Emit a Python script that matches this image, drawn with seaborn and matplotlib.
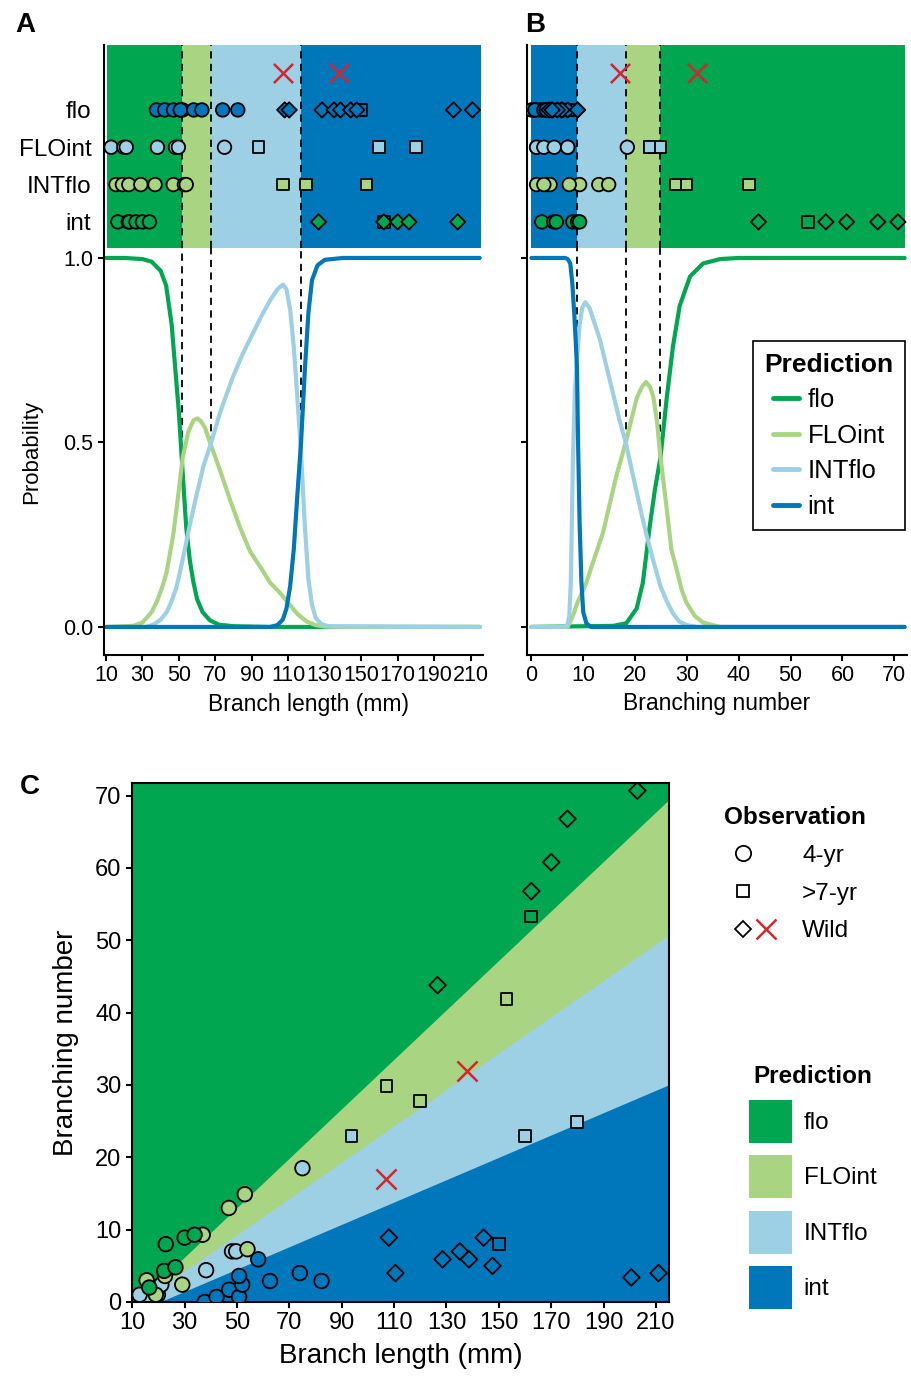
import numpy as np
import pandas as pd
import matplotlib
matplotlib.use('Agg')
import matplotlib.pyplot as plt
import seaborn as sns
from matplotlib.lines import Line2D
from matplotlib.patches import Patch
from matplotlib.legend_handler import HandlerTuple

# prediction classes and their colours
classes = ['flo', 'FLOint', 'INTflo', 'int']
palette = {'flo': '#00A650', 'FLOint': '#A9D582', 'INTflo': '#9DCFE5', 'int': '#0077BB'}
wild_red = '#D4262C'

# observed plants: branch length (mm), branching number, age group, observed class
int_len = [37.7, 42.2, 47.0, 50.8, 52.0, 50.8, 58.1, 62.6, 74.0, 82.3,
           150.0,
           108.0, 110.5, 128.5, 135.1, 138.6, 144.2, 147.6, 200.6, 211.0]
int_num = [0.0, 0.7, 1.7, 0.7, 2.4, 3.6, 5.9, 2.9, 4.0, 2.9,
           8.0,
           8.9, 4.0, 5.9, 7.0, 5.9, 8.9, 5.0, 3.4, 4.0]
int_type = ['4-yr'] * 10 + ['>7-yr'] + ['Wild'] * 9

intflo_len = [12.8, 19.8, 21.1, 38.2, 48.1, 49.7, 75.0, 93.7, 159.9, 180.0]
intflo_num = [1.0, 1.0, 2.4, 4.4, 7.0, 7.0, 18.5, 22.9, 22.9, 24.9]
intflo_type = ['4-yr'] * 7 + ['>7-yr'] * 3

floint_len = [15.5, 19.0, 22.5, 29.1, 36.9, 46.9, 53.0, 54.0, 107.1, 119.8, 152.9]
floint_num = [3.0, 1.0, 3.6, 2.4, 9.3, 13.0, 14.9, 7.3, 29.9, 27.8, 41.9]
floint_type = ['4-yr'] * 8 + ['>7-yr'] * 3

flo_len = [16.5, 22.2, 22.8, 26.5, 30.0, 33.8, 162.4, 126.6, 162.4, 170.0, 176.2, 202.9]
flo_num = [2.0, 4.3, 8.0, 4.8, 8.9, 9.3, 53.3, 43.8, 56.8, 60.8, 66.8, 70.7]
flo_type = ['4-yr'] * 6 + ['>7-yr'] + ['Wild'] * 5

# wild plants without observed class
unk_len = [107.0, 138.0]
unk_num = [17.0, 32.0]

# predicted probability curves, panel A (branch length)
a_x = {
    'flo': [10, 20, 30, 35, 40, 43, 46, 48, 50, 51.7, 54, 56, 58, 60, 63, 67, 72, 80, 100, 215],
    'FLOint': [10, 25, 30, 35, 38, 41, 43.3, 46.9, 49.7, 52.1, 55.2, 58, 60.1, 62, 64.3, 67.4, 72.5,
               78, 83.5, 89, 95, 100, 105, 110, 115, 120, 125, 130, 140, 215],
    'INTflo': [10, 32, 36, 40, 43.3, 46, 48.8, 52.4, 56.1, 59.8, 63.4, 67.4, 72.5, 79, 85, 90, 95, 100,
               104, 107, 109, 111, 113, 115, 117, 119, 121, 123, 125, 128, 132, 215],
    'int': [10, 100, 104, 107, 109, 111, 113, 115, 117, 119, 121, 123, 126, 130, 140, 215],
}
a_p = {
    'flo': [1.0, 1.0, 0.997, 0.99, 0.965, 0.925, 0.82, 0.70, 0.58, 0.445, 0.27, 0.18, 0.12, 0.075,
            0.04, 0.018, 0.006, 0.002, 0.0, 0.0],
    'FLOint': [0.0, 0.003, 0.012, 0.04, 0.07, 0.11, 0.15, 0.25, 0.36, 0.46, 0.53, 0.56, 0.565, 0.558,
               0.54, 0.495, 0.425, 0.345, 0.27, 0.205, 0.16, 0.12, 0.095, 0.065, 0.035, 0.015, 0.005,
               0.001, 0.0, 0.0],
    'INTflo': [0.0, 0.0, 0.006, 0.02, 0.04, 0.07, 0.11, 0.19, 0.28, 0.36, 0.435, 0.495, 0.58, 0.67,
               0.74, 0.79, 0.84, 0.885, 0.915, 0.928, 0.915, 0.86, 0.76, 0.62, 0.47, 0.28, 0.13, 0.06,
               0.025, 0.008, 0.002, 0.0],
    'int': [0.0, 0.0, 0.005, 0.02, 0.05, 0.11, 0.21, 0.36, 0.5, 0.69, 0.85, 0.94, 0.98, 0.995, 1.0, 1.0],
}

# predicted probability curves, panel B (branching number)
b_x = {
    'flo': [0, 15.8, 18.3, 20.3, 21.5, 22.8, 23.8, 24.9, 26.1, 27.3, 28.6, 30.6, 33.1, 36.4, 40, 72],
    'FLOint': [0, 7.0, 8.0, 9.0, 10.0, 10.6, 12.0, 13.8, 16.4, 18.2, 20.3, 21.3, 22.1, 22.9, 23.5, 24.2,
               24.9, 26.1, 27.0, 28.0, 29.0, 29.9, 31.5, 33.1, 36.4, 72],
    'INTflo': [0, 6.5, 7.0, 7.3, 7.6, 8.0, 8.4, 8.8, 9.3, 9.8, 10.4, 11.2, 13.2, 15.1, 17.0, 18.2, 19.6,
               21.5, 22.2, 23.5, 24.9, 26.1, 27.3, 28.5, 30.0, 32, 72],
    'int': [0, 6.5, 7.0, 7.5, 7.9, 8.3, 8.6, 8.8, 9.0, 9.3, 9.65, 10.0, 10.6, 11.5, 72],
}
b_p = {
    'flo': [0.0, 0.003, 0.01, 0.05, 0.12, 0.27, 0.37, 0.46, 0.62, 0.76, 0.87, 0.95, 0.985, 0.997, 1.0, 1.0],
    'FLOint': [0.0, 0.0, 0.03, 0.07, 0.1, 0.12, 0.18, 0.255, 0.41, 0.5, 0.62, 0.65, 0.664, 0.65, 0.625,
               0.56, 0.46, 0.32, 0.21, 0.157, 0.1, 0.066, 0.03, 0.012, 0.0, 0.0],
    'INTflo': [0.0, 0.0, 0.008, 0.03, 0.12, 0.45, 0.64, 0.73, 0.82, 0.865, 0.88, 0.865, 0.78, 0.67, 0.56,
               0.5, 0.41, 0.29, 0.25, 0.18, 0.11, 0.07, 0.037, 0.015, 0.005, 0.0, 0.0],
    'int': [1.0, 1.0, 0.997, 0.985, 0.93, 0.84, 0.76, 0.70, 0.50, 0.28, 0.12, 0.04, 0.01, 0.0, 0.0],
}

# class thresholds and where the dashed lines stop
a_cuts = [51.7, 67.4, 117.0]
a_cut_end = [0.445, 0.495, 0.485]
a_range = [10.3, 215.5]
a_order = ['flo', 'FLOint', 'INTflo', 'int']
b_cuts = [8.8, 18.2, 24.9]
b_cut_end = [0.71, 0.5, 0.46]
b_range = [0.0, 72.0]
b_order = ['int', 'INTflo', 'FLOint', 'flo']

# decision boundaries in panel C (branch length, branching number)
bnd_floint_x = [11.8, 216]
bnd_floint_y = [0, 69.8]
bnd_intflo_x = [13, 216]
bnd_intflo_y = [0, 51.0]
bnd_int_x = [20.5, 216]
bnd_int_y = [0, 30.2]

obs = pd.DataFrame({
    'length': int_len + intflo_len + floint_len + flo_len,
    'number': int_num + intflo_num + floint_num + flo_num,
    'type': int_type + intflo_type + floint_type + flo_type,
    'cls': ['int'] * len(int_len) + ['INTflo'] * len(intflo_len)
           + ['FLOint'] * len(floint_len) + ['flo'] * len(flo_len),
})
obs['row'] = obs['cls'].map({c: i + 1 for i, c in enumerate(classes)})


def curves(xs, ps):
    return pd.concat([pd.DataFrame({'x': xs[c], 'p': ps[c], 'cls': c}) for c in classes])


sns.set_theme(style='ticks', rc={'axes.edgecolor': 'black', 'xtick.color': 'black',
                                 'ytick.color': 'black', 'text.color': 'black',
                                 'axes.labelcolor': 'black', 'axes.linewidth': 1.5,
                                 'xtick.major.width': 1.5, 'ytick.major.width': 1.5,
                                 'xtick.major.size': 4, 'ytick.major.size': 4})
plt.rcParams['font.family'] = ['Liberation Sans', 'DejaVu Sans']

W, H = 912, 1376
fig = plt.figure(figsize=(W / 100, H / 100), dpi=100)


def box(l, t, r, b):
    return [l / W, 1 - b / H, (r - l) / W, (b - t) / H]


ax_sa = fig.add_axes(box(104, 45, 483, 248))
ax_pa = fig.add_axes(box(104, 248, 483, 655))
ax_sb = fig.add_axes(box(527, 45, 907, 248))
ax_pb = fig.add_axes(box(527, 248, 907, 655))
ax_c = fig.add_axes(box(132, 783, 669, 1302))

marker_a = [('4-yr', 'o', 95), ('>7-yr', 's', 72), ('Wild', 'D', 60)]
marker_c = [('4-yr', 'o', 110), ('>7-yr', 's', 72), ('Wild', 'D', 72)]
dash = (0, (4, 3))

# strips with observations along one variable
for ax, col, cuts, rng, order, xlim in [
        (ax_sa, 'length', a_cuts, a_range, a_order, (8.9, 216.8)),
        (ax_sb, 'number', b_cuts, b_range, b_order, (-0.85, 72.45))]:
    edges = [rng[0]] + cuts + [rng[1]]
    for i, c in enumerate(order):
        ax.axvspan(edges[i], edges[i + 1], color=palette[c], lw=0, zorder=0)
    for c in cuts:
        ax.axvline(c, color='black', ls=dash, lw=1.3, zorder=1)
    for t, m, s in marker_a:
        sns.scatterplot(data=obs[obs['type'] == t], x=col, y='row', hue='cls', palette=palette,
                        marker=m, s=s, edgecolor='black', linewidth=1.3, legend=False,
                        ax=ax, zorder=3)
    unk = unk_len if col == 'length' else unk_num
    sns.scatterplot(x=unk, y=[5] * len(unk), marker='x', color=wild_red, s=190,
                    linewidth=1.8, ax=ax, zorder=4)
    ax.set_xlim(*xlim)
    ax.set_ylim(0.3, 5.74)
    ax.set_xticks([])
    ax.set_xlabel('')
    ax.set_ylabel('')
    for sp in ['top', 'right', 'bottom']:
        ax.spines[sp].set_visible(False)

ax_sa.set_yticks([1, 2, 3, 4])
ax_sa.set_yticklabels(['int', 'INTflo', 'FLOint', 'flo'])
ax_sa.tick_params(axis='y', length=0, pad=9, labelsize=17.5)
ax_sb.set_yticks([])

# probability curves
for ax, xs, ps, cuts, ends, xlim in [
        (ax_pa, a_x, a_p, a_cuts, a_cut_end, (8.9, 216.8)),
        (ax_pb, b_x, b_p, b_cuts, b_cut_end, (-0.85, 72.45))]:
    ax.vlines(cuts, ends, 1.03, colors='black', linestyles=dash, lw=1.3, zorder=1)
    sns.lineplot(data=curves(xs, ps), x='x', y='p', hue='cls', hue_order=classes,
                 palette=palette, lw=3, estimator=None, legend=False, ax=ax, zorder=2)
    ax.set_xlim(*xlim)
    ax.set_ylim(-0.076, 1.027)
    ax.set_yticks([0, 0.5, 1.0])
    ax.tick_params(labelsize=15.5)
    sns.despine(ax=ax)

ax_pa.set_xticks(range(10, 211, 20))
ax_pa.set_yticklabels(['0.0', '0.5', '1.0'])
ax_pa.set_xlabel('Branch length (mm)', fontsize=16.5, labelpad=4)
ax_pa.xaxis.set_label_coords(0.54, -0.094)
ax_pa.set_ylabel('Probability', fontsize=16, labelpad=15)
ax_pb.set_xticks(range(0, 71, 10))
ax_pb.set_yticklabels([])
ax_pb.set_xlabel('Branching number', fontsize=16.5, labelpad=4)
ax_pb.set_ylabel('')

leg = ax_pb.legend(handles=[Line2D([], [], color=palette[c], lw=3.5) for c in classes],
                   labels=classes, title='Prediction', loc='upper right',
                   bbox_to_anchor=(905 / W, 1 - 341 / H), bbox_transform=fig.transFigure,
                   frameon=True, fancybox=False, edgecolor='black', framealpha=1,
                   fontsize=18.5, title_fontproperties={'weight': 'bold', 'size': 19},
                   handlelength=1.0, handletextpad=0.35, labelspacing=0.45, borderpad=0.45,
                   borderaxespad=0)
leg.get_frame().set_linewidth(1.2)

# panel C: decision regions and observations
ax_c.set_facecolor(palette['flo'])
ax_c.fill_between(bnd_floint_x, 0, bnd_floint_y, color=palette['FLOint'], lw=0, zorder=0)
ax_c.fill_between(bnd_intflo_x, 0, bnd_intflo_y, color=palette['INTflo'], lw=0, zorder=0)
ax_c.fill_between(bnd_int_x, 0, bnd_int_y, color=palette['int'], lw=0, zorder=0)
for t, m, s in marker_c:
    sns.scatterplot(data=obs[obs['type'] == t], x='length', y='number', hue='cls',
                    palette=palette, marker=m, s=s, edgecolor='black', linewidth=1.3,
                    legend=False, ax=ax_c, zorder=3)
sns.scatterplot(x=unk_len, y=unk_num, marker='x', color=wild_red, s=210, linewidth=1.8,
                ax=ax_c, zorder=4)
ax_c.set_xlim(9.9, 215)
ax_c.set_ylim(0, 71.75)
ax_c.set_xticks(range(10, 211, 20))
ax_c.set_yticks(range(0, 71, 10))
ax_c.tick_params(labelsize=17)
ax_c.set_xlabel('Branch length (mm)', fontsize=20, labelpad=6)
ax_c.set_ylabel('Branching number', fontsize=20, labelpad=12)

blank = Line2D([], [], ls='', marker='')
h_circle = Line2D([], [], ls='', marker='o', mfc='white', mec='black', ms=11, mew=1.3)
h_square = Line2D([], [], ls='', marker='s', mfc='white', mec='black', ms=8.5, mew=1.3)
h_diamond = Line2D([], [], ls='', marker='D', mfc='white', mec='black', ms=8.5, mew=1.3)
h_x = Line2D([], [], ls='', marker='x', color=wild_red, ms=14, mew=1.8)
fig.legend(handles=[(h_circle, blank), (h_square, blank), (h_diamond, h_x)],
           labels=['4-yr', '>7-yr', 'Wild'], handler_map={tuple: HandlerTuple(ndivide=None)},
           title='Observation', loc='upper left', bbox_to_anchor=(724 / W, 1 - 806 / H),
           frameon=False, fontsize=17.5, title_fontproperties={'weight': 'bold', 'size': 17.5},
           handlelength=1.9, handletextpad=1.0, labelspacing=0.65, borderpad=0,
           borderaxespad=0)
fig.legend(handles=[Patch(facecolor=palette[c], edgecolor='none') for c in classes],
           labels=classes, title='Prediction', loc='upper left',
           bbox_to_anchor=(749 / W, 1 - 1065 / H), frameon=False, fontsize=17.5,
           title_fontproperties={'weight': 'bold', 'size': 17.5},
           handlelength=1.75, handleheight=2.35, handletextpad=0.5, labelspacing=0.5,
           borderpad=0, borderaxespad=0)

for txt, x, y in [('A', 25, 25), ('B', 535, 25), ('C', 30, 787)]:
    fig.text(x / W, 1 - y / H, txt, fontsize=20, fontweight='bold', ha='center', va='center')

fig.savefig('out.png', dpi=100)
